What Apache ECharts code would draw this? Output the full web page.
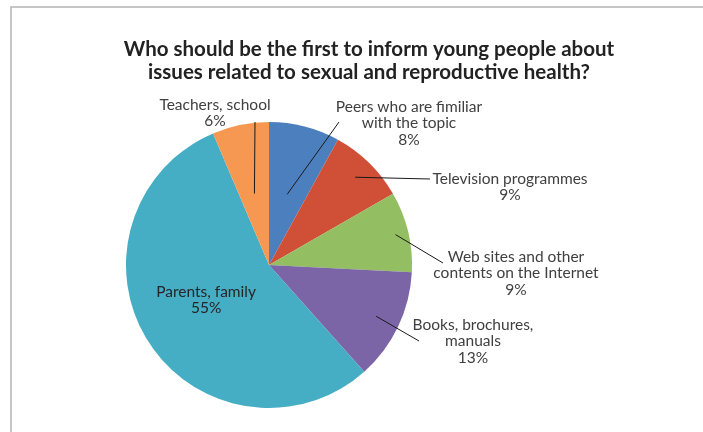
<!DOCTYPE html>
<html>
<head>
<meta charset="utf-8">
<script src="https://cdn.jsdelivr.net/npm/echarts@6/dist/echarts.min.js"></script>
<style>
html,body{margin:0;padding:0;background:#fff;}
#chart{width:703px;height:432px;}
</style>
</head>
<body>
<div id="chart"></div>
<script>
// ---- data ----
const categories = [
  'Peers who are fimiliar\nwith the topic',
  'Television programmes',
  'Web sites and other\ncontents on the Internet',
  'Books, brochures,\nmanuals',
  'Parents, family',
  'Teachers, school'
];
const values = [8.0, 8.7, 9.1, 12.6, 55.2, 6.4];
const colors = ['#4C7FBD', '#CF4F37', '#93BE62', '#7C65A6', '#45ADC4', '#F79852'];
const titleText = 'Who should be the first to inform young people about\nissues related to sexual and reproductive health?';

// ---- layout (style only) ----
const CX = 269, CY = 265, R = 143;
const FONT = 'Lato';
// label block centre, leader end point, leader start radius fraction
const labelPlace = [
  {x: 409, y: 123, ex: 339, ey: 122, f: 0.51},
  {x: 510, y: 187, ex: 430, ey: 179, f: 0.86},
  {x: 516, y: 273, ex: 443, ey: 263, f: 0.91},
  {x: 473, y: 341, ex: 419, ey: 341, f: 0.83},
  null,
  {x: 215, y: 113, ex: 255, ey: 122, f: 0.51}
];

const total = values.reduce((a, b) => a + b, 0);
function midAngle(i) {
  let acc = 0;
  for (let k = 0; k < i; k++) acc += values[k];
  acc += values[i] / 2;
  return acc / total * 2 * Math.PI; // clockwise from top
}

const leaderLines = [];
labelPlace.forEach((lp, i) => {
  if (!lp) return;
  const a = midAngle(i);
  leaderLines.push({
    type: 'line',
    silent: true,
    z: 10,
    shape: {
      x1: CX + Math.sin(a) * R * lp.f,
      y1: CY - Math.cos(a) * R * lp.f,
      x2: lp.ex,
      y2: lp.ey
    },
    style: {stroke: '#1a1a1a', lineWidth: 1}
  });
});

const chart = echarts.init(document.getElementById('chart'));
chart.setOption({
  animation: false,
  backgroundColor: '#fff',
  title: {
    text: titleText,
    left: 364,
    top: 33,
    textAlign: 'center',
    textStyle: {
      fontFamily: FONT,
      fontSize: 20.5,
      fontWeight: 'bold',
      color: '#222222',
      lineHeight: 23
    }
  },
  graphic: [{
    type: 'rect',
    shape: {x: 11, y: 7, width: 800, height: 600},
    style: {fill: 'none', stroke: '#b4b4b4', lineWidth: 1.5},
    silent: true, z: -1
  }].concat(leaderLines),
  series: [{
    type: 'pie',
    center: [CX, CY],
    radius: R,
    startAngle: 90,
    clockwise: true,
    percentPrecision: 0,
    avoidLabelOverlap: false,
    itemStyle: {borderWidth: 0},
    label: {
      show: true,
      position: 'outside',
      formatter: '{b}\n{d}%',
      fontFamily: FONT,
      fontSize: 15.5,
      lineHeight: 16.5,
      color: '#404040',
      align: 'center'
    },
    labelLine: {show: false},
    emphasis: {disabled: true},
    data: categories.map((name, i) => ({
      name: name,
      value: values[i],
      itemStyle: {color: colors[i]},
      label: i === 4 ? {position: 'inside', color: '#262626'} : {}
    })),
    labelLayout: function (p) {
      const lp = labelPlace[p.dataIndex];
      if (!lp) return {dy: -5};
      return {x: lp.x, y: lp.y, align: 'center', verticalAlign: 'middle'};
    }
  }]
});
</script>
</body>
</html>
